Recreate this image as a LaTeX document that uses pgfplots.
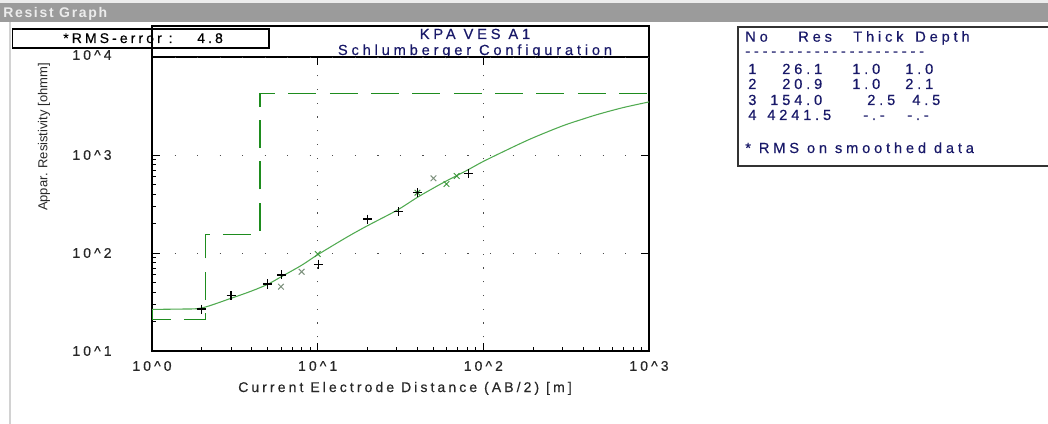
\documentclass[border=0pt]{standalone}
\usepackage{fontspec}
\setmainfont{Liberation Sans}
\newfontfamily\spaced[LetterSpace=22,FakeBold=0.4]{Liberation Sans}
\newfontfamily\wider[LetterSpace=26,FakeBold=0.4]{Liberation Sans}
\newfontfamily\barfont[LetterSpace=12]{Liberation Sans}
\usepackage{pgfplots}
\pgfplotsset{compat=1.18}
\definecolor{modelgreen}{RGB}{30,140,30}
\definecolor{fitgreen}{RGB}{80,170,80}
\definecolor{xgreen}{RGB}{60,150,60}
\definecolor{xgray}{RGB}{125,145,125}
\definecolor{navy}{RGB}{25,25,105}
\definecolor{barg}{RGB}{155,155,155}
\definecolor{labelgray}{RGB}{40,40,40}
\tikzset{t/.style={inner sep=0pt, anchor=base west,
  font=\spaced\fontsize{10.5pt}{12pt}\selectfont},
  tw/.style={inner sep=0pt, anchor=base west, text=navy,
  font=\wider\fontsize{11pt}{13pt}\selectfont}}

\begin{document}
\begin{tikzpicture}
\path[use as bounding box] (0,0) rectangle (786pt,-318pt);
% window frame, boxes and free text (1 unit = 1 px of the screenshot)
\begin{scope}[x=0.75pt,y=-0.75pt]
  \fill[white] (0,0) rectangle (1048,424);
  \fill[gray!15] (0,0) rectangle (1048,3);
  \fill[barg] (0,3) rectangle (1048,22);
  \node[inner sep=0pt, anchor=base west, font=\barfont\fontsize{10.5pt}{12pt}\selectfont\bfseries,
    text=gray!15] at (3,17.5) {Resist Graph};
  \draw[gray!35, line width=1.5pt] (10,22) -- (10,424);
  % RMS box
  \draw[black, line width=0.8pt] (12.7,29) rectangle (269,48);
  \node[t] at (63,43) {*RMS-error :};
  \node[t] at (197,43) {4.8};
  % title box
  \draw[black, line width=0.8pt] (152,57) -- (152,26) -- (649,26) -- (649,57);
  \node[tw, anchor=base] at (475,39) {KPA VES A1};
  \node[tw, anchor=base] at (475,55) {Schlumberger Configuration};
  % axis labels
  \node[t, anchor=base, text=labelgray] at (405,392)
    {Current Electrode Distance (AB/2) [m]};
  \node[rotate=90, inner sep=0pt, font=\fontsize{9.75pt}{11pt}\selectfont,
    text=labelgray] at (44,137) {Appar. Resistivity [ohmm]};
  % layer table
  \draw[black!80, line width=0.8pt] (1060,27) -- (738,27) -- (738,166) -- (1060,166);
  \begin{scope}[every node/.style={tw}]
    \node at (745,41.7) {No};   \node at (798,41.7) {Res};
    \node at (853,41.7) {Thick}; \node at (915,41.7) {Depth};
    \node at (745,56) {---------------------};
    \node at (748,74) {1}; \node at (782,74) {26.1};
    \node at (852,74) {1.0}; \node at (905,74) {1.0};
    \node at (748,89) {2}; \node at (782,89) {20.9};
    \node at (852,89) {1.0}; \node at (905,89) {2.1};
    \node at (748,105) {3}; \node at (770,105) {154.0};
    \node at (867,105) {2.5}; \node at (912,105) {4.5};
    \node at (748,120) {4}; \node at (767,120) {4241.5};
    \node at (863,120) {-.-}; \node at (907,120) {-.-};
    \node at (745,153) {* RMS on smoothed data};
  \end{scope}
\end{scope}

\begin{axis}[
  at={(114pt,-263.25pt)}, anchor=south west,
  width=372.75pt, height=220.5pt, scale only axis,
  xmode=log, ymode=log,
  xmin=1, xmax=1000, ymin=10, ymax=10000,
  xtick={1,10,100,1000},
  xticklabels={10\textasciicircum 0,10\textasciicircum 1,10\textasciicircum 2,10\textasciicircum 3},
  ytick={10,100,1000},
  yticklabels={10\textasciicircum 1,10\textasciicircum 2,10\textasciicircum 3},
  extra y ticks={10000},
  extra y tick labels={10\textasciicircum 4},
  extra y tick style={yticklabel style={yshift=1.5pt}},
  xtick pos=bottom, ytick pos=left, tick align=inside,
  major tick length=6pt, minor tick length=3pt,
  every tick/.style={black, line width=0.6pt},
  ticklabel style={font=\spaced\fontsize{10.5pt}{12pt}\selectfont, text=labelgray},
  xticklabel style={anchor=center, yshift=-11.25pt},
  yticklabel style={anchor=center, xshift=-45pt},
  grid=major,
  x grid style={black!70, line width=0.6pt, dash pattern=on 0.9pt off 9.4pt},
  y grid style={black!70, line width=0.6pt, dash pattern=on 0.9pt off 16pt},
  axis line style={black, line width=1.1pt},
]
% layered model
\addplot[modelgreen, line width=1.1pt, dash pattern=on 21pt off 10pt] coordinates
  {(1,26.1)(1,20.9)(2.1,20.9)(2.1,154)(4.5,154)(4.5,4241.5)(1000,4241.5)};
% model response
\addplot[fitgreen, line width=0.8pt, smooth] coordinates
  {(1,26.6)(1.5,26.8)(2,27.5)(3,34.5)(4,41)(5,48)(6,57)(8,75)(10,96)
   (15,145)(20,190)(30,272)(40,370)(50,460)(60,545)(80,700)(100,860)
   (150,1200)(200,1500)(300,1980)(400,2330)(500,2620)(700,3050)(1000,3480)};
% smoothed data
\addplot[xgray, only marks, mark=x, mark size=3pt, line width=0.7pt] coordinates
  {(6,45.3)(8,64.4)(50,578)};
\addplot[xgreen, only marks, mark=x, mark size=3pt, line width=0.7pt] coordinates
  {(10,97.7)(40,412)(60,506)(69,611)};
% field data
\addplot[black, only marks, mark=+, mark size=3.4pt, line width=0.9pt] coordinates
  {(2,26.8)(3,36.7)(5,48.3)(6.06,59.7)(10.1,76.8)(20,222)(30.6,263)(40,412)(81,650)};
\end{axis}

% major ticks on top and right only
\begin{axis}[
  at={(114pt,-263.25pt)}, anchor=south west,
  width=372.75pt, height=220.5pt, scale only axis,
  xmode=log, ymode=log,
  xmin=1, xmax=1000, ymin=10, ymax=10000,
  xtick={10,100}, ytick={100,1000},
  xticklabels={}, yticklabels={},
  xtick pos=top, ytick pos=right, tick align=inside,
  major tick length=6pt, minor tick length=0pt,
  every tick/.style={black, line width=0.6pt},
  axis line style={draw=none},
]
\end{axis}
\end{tikzpicture}
\end{document}
